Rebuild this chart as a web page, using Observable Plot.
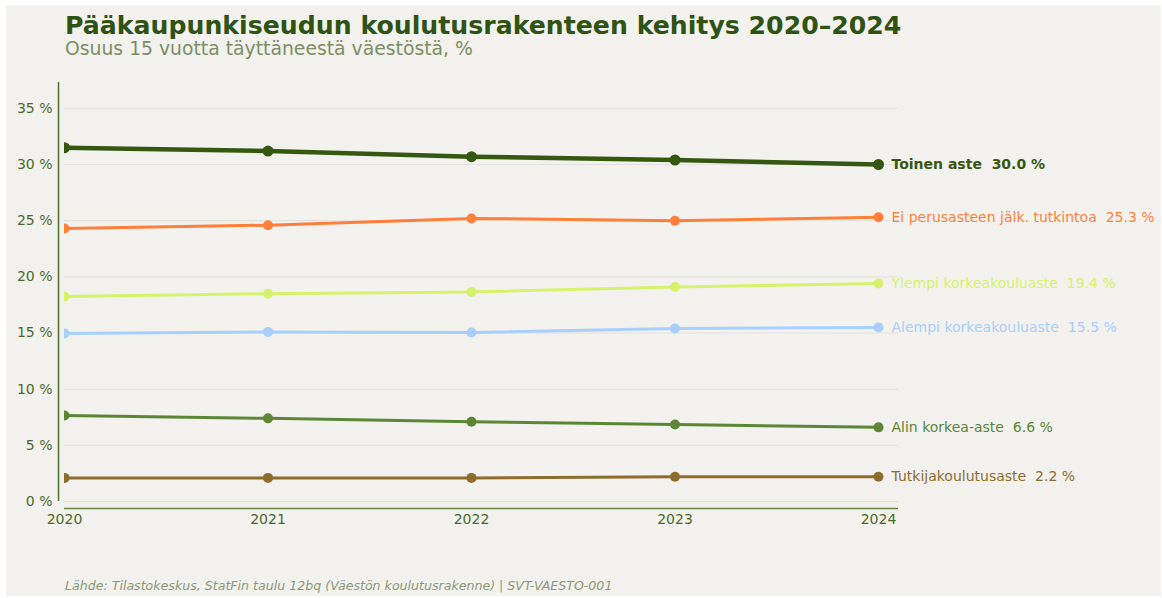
<!DOCTYPE html>
<html>
<head>
<meta charset="utf-8">
<script src="https://cdn.jsdelivr.net/npm/d3@7"></script>
<script src="https://cdn.jsdelivr.net/npm/@observablehq/plot@0.6"></script>
<style>
  html, body { margin: 0; padding: 0; background: #ffffff; }
  #panel { position: absolute; left: 6px; top: 5px; width: 1155px; height: 591px; background: #f3f2ee; font-family: "DejaVu Sans", sans-serif; overflow: hidden; }
  #title { position: absolute; left: 59px; top: 6px; font-size: 25.2px; font-weight: bold; color: #2f5312; white-space: nowrap; }
  #subtitle { position: absolute; left: 59px; top: 33px; font-size: 18.8px; color: #7b8f64; white-space: nowrap; }
  #chart { position: absolute; left: 0; top: 55px; }
  #caption { position: absolute; left: 59px; top: 573px; font-size: 12.6px; font-style: italic; color: #8a9a78; white-space: nowrap; }
</style>
</head>
<body>
<div id="panel">
  <div id="title">Pääkaupunkiseudun koulutusrakenteen kehitys 2020–2024</div>
  <div id="subtitle">Osuus 15 vuotta täyttäneestä väestöstä, %</div>
  <div id="chart"></div>
  <div id="caption">Lähde: Tilastokeskus, StatFin taulu 12bq (Väestön koulutusrakenne) | SVT-VAESTO-001</div>
</div>
<script>
const years = [2020, 2021, 2022, 2023, 2024];
const seriesNames = ["Toinen aste", "Ei perusasteen jälk. tutkintoa", "Ylempi korkeakouluaste", "Alempi korkeakouluaste", "Alin korkea-aste", "Tutkijakoulutusaste"];
const toinenAste = [31.5, 31.2, 30.7, 30.4, 30.0];
const eiPerusasteen = [24.3, 24.6, 25.2, 25.0, 25.3];
const ylempiKorkea = [18.25, 18.5, 18.65, 19.1, 19.4];
const alempiKorkea = [14.95, 15.1, 15.05, 15.4, 15.5];
const alinKorkea = [7.65, 7.4, 7.1, 6.85, 6.6];
const tutkija = [2.1, 2.1, 2.1, 2.2, 2.2];
const seriesValues = [toinenAste, eiPerusasteen, ylempiKorkea, alempiKorkea, alinKorkea, tutkija];
const seriesColors = ["#36570f", "#ff7f3a", "#d5f26a", "#a9cffd", "#5c8636", "#8e6c2d"];
const yTicks = [0, 5, 10, 15, 20, 25, 30, 35];

const rows = [];
seriesNames.forEach((name, i) => {
  years.forEach((yr, j) => rows.push({series: name, year: yr, value: seriesValues[i][j]}));
});
const last = seriesNames.map((name, i) => ({series: name, year: years[years.length - 1], value: seriesValues[i][years.length - 1]}));

const colorScale = {domain: seriesNames, range: seriesColors};
const mainName = seriesNames[0];

const marks = [
  Plot.gridY(yTicks, {stroke: "#dcdad3", strokeOpacity: 0.7, strokeWidth: 1}),
  Plot.ruleY([0], {stroke: "#67864a", strokeWidth: 1.5, dy: 7}),
  Plot.ruleX([years[0]], {y1: 0, y2: 37.3, stroke: "#4d6b2c", strokeWidth: 1.5, dx: -6}),
  Plot.axisY({ticks: yTicks, tickSize: 0, tickPadding: 12, tickFormat: d => `${d} %`, fontSize: 14, color: "#4a6a2a", anchor: "left", label: null}),
  Plot.axisX({ticks: years, tickSize: 0, tickPadding: 13, tickFormat: d => String(d), fontSize: 14, color: "#4a6a2a", anchor: "bottom", label: null}),
  Plot.line(rows.filter(d => d.series !== mainName), {x: "year", y: "value", z: "series", stroke: "series", strokeWidth: 3, clip: true}),
  Plot.line(rows.filter(d => d.series === mainName), {x: "year", y: "value", stroke: "series", strokeWidth: 4.5, clip: true}),
  Plot.dot(rows, {x: "year", y: "value", fill: "series", r: d => d.series === mainName ? 5.5 : 5, clip: true}),
  Plot.text(last.filter(d => d.series !== mainName), {x: "year", y: "value", fill: "series", text: d => `${d.series}  ${d.value.toFixed(1)} %`, dx: 13, textAnchor: "start", fontSize: 14}),
  Plot.text(last.filter(d => d.series === mainName), {x: "year", y: "value", fill: "series", text: d => `${d.series}  ${d.value.toFixed(1)} %`, dx: 13, textAnchor: "start", fontSize: 14, fontWeight: "bold"})
];

const chart = Plot.plot({
  width: 1155,
  height: 506,
  marginLeft: 58,
  marginRight: 263,
  marginTop: 22,
  marginBottom: 65,
  insetRight: 20,
  style: {background: "transparent", fontFamily: "DejaVu Sans, sans-serif", overflow: "visible"},
  x: {domain: [2020, 2024], type: "linear", axis: null},
  y: {domain: [0, 37.3], axis: null},
  r: {type: "identity"},
  color: colorScale,
  marks
});
document.getElementById("chart").appendChild(chart);
</script>
</body>
</html>
